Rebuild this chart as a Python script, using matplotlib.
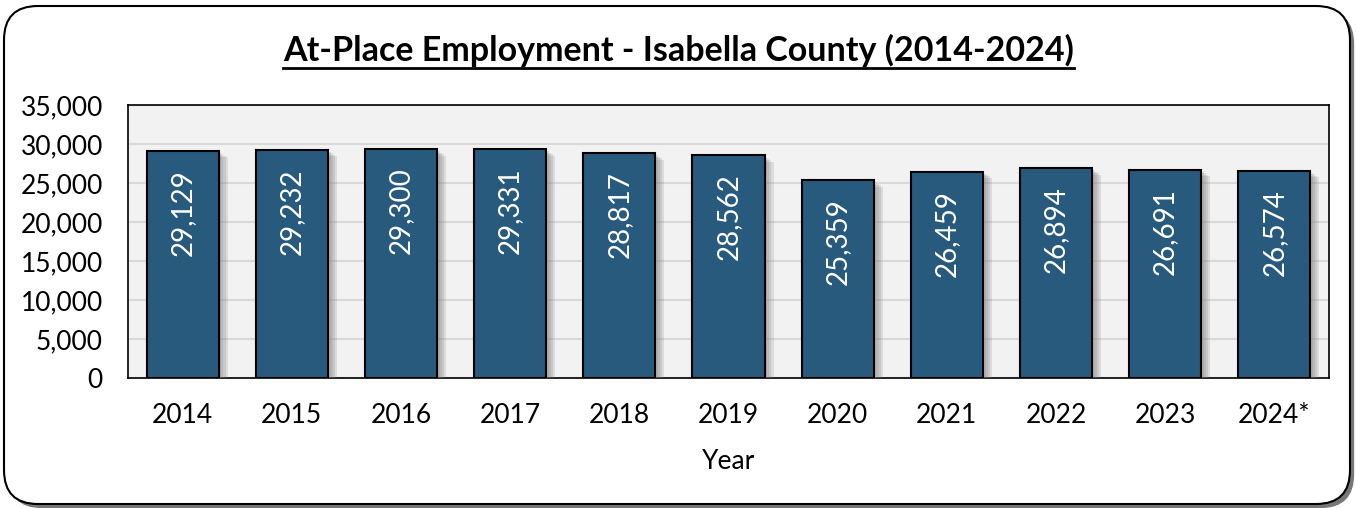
import matplotlib
matplotlib.use("Agg")
import matplotlib.pyplot as plt
import matplotlib.patheffects as pe
from matplotlib.patches import FancyBboxPatch
from matplotlib.ticker import FuncFormatter, MultipleLocator

years = ['2014', '2015', '2016', '2017', '2018', '2019', '2020', '2021', '2022', '2023', '2024*']
employment = [29129, 29232, 29300, 29331, 28817, 28562, 25359, 26459, 26894, 26691, 26574]

plt.rcParams['font.family'] = ['Lato', 'DejaVu Sans']

W, H = 1357, 508
fig = plt.figure(figsize=(W / 100, H / 100), dpi=100)
fig.patch.set_facecolor('white')

# rounded outer frame with a shadow (kept behind the axes)
frame = FancyBboxPatch((4 / W, 4 / H), 1346 / W, 498 / H,
                       boxstyle="round,pad=0,rounding_size=0.025",
                       transform=fig.transFigure, facecolor='white',
                       edgecolor='black', linewidth=1.5, mutation_aspect=W / H, zorder=-5,
                       path_effects=[pe.SimplePatchShadow(offset=(3, -3), shadow_rgbFace='#555555', alpha=0.8),
                                     pe.Normal()])
fig.patches.append(frame)

ax = fig.add_axes([128 / W, 1 - 378 / H, 1201 / W, 273 / H])
ax.set_facecolor('#f2f2f2')

x = range(len(years))
bars = ax.bar(x, employment, width=0.66, color='#285a7e', edgecolor='black', linewidth=1.5, zorder=3)
# soft shadow: a few faint offset copies
shadow = [pe.SimplePatchShadow(offset=(o, -o * 0.7), shadow_rgbFace='#777777', alpha=0.18)
          for o in (2, 3.5, 5, 6.5)]
for b in bars:
    b.set_path_effects(shadow + [pe.Normal()])

for xi, v in zip(x, employment):
    ax.annotate(f'{v:,}', (xi, v), xytext=(0, -13), textcoords='offset points',
                rotation=90, ha='center', va='top', color='white', fontsize=20, zorder=4)

ax.set_ylim(0, 35000)
ax.set_xlim(-0.5, len(years) - 0.5)
ax.yaxis.set_major_locator(MultipleLocator(5000))
ax.yaxis.set_major_formatter(FuncFormatter(lambda v, p: f'{int(v):,}'))
ax.grid(axis='y', color='#d9d9d9', linewidth=1.5, zorder=0)
ax.set_axisbelow(True)
ax.set_xticks(list(x))
ax.set_xticklabels(years)
ax.tick_params(axis='both', length=0, labelsize=19, colors='black')
ax.tick_params(axis='x', pad=18)
ax.tick_params(axis='y', pad=18)
for s in ax.spines.values():
    s.set_color('black')
    s.set_linewidth(1.2)
ax.set_xlabel('Year', fontsize=19, labelpad=15)

title = fig.text(0.5, 1 - 50 / H, 'At-Place Employment - Isabella County (2014-2024)',
                 ha='center', va='center', fontsize=24.5, fontweight='bold')
fig.canvas.draw()
bb = title.get_window_extent(fig.canvas.get_renderer())
uy = (bb.y0 - 1) / H
fig.add_artist(plt.Line2D([bb.x0 / W, bb.x1 / W], [uy, uy], transform=fig.transFigure,
                          color='black', linewidth=2))

fig.savefig('out.png', dpi=100)
